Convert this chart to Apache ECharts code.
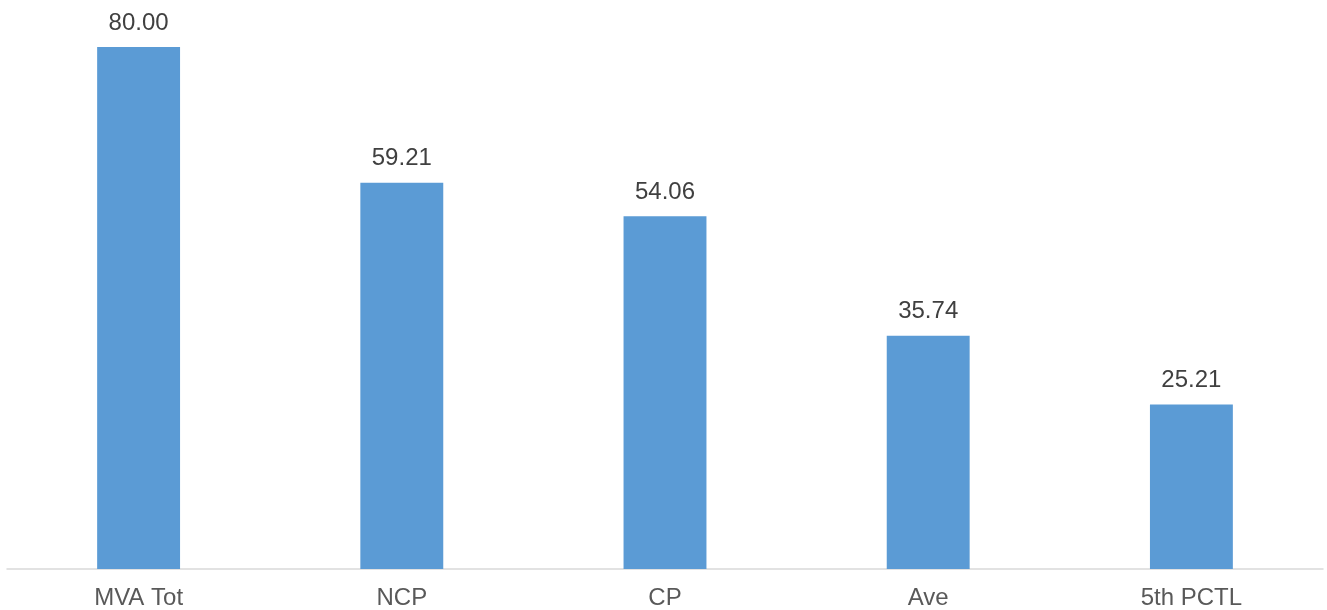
<!DOCTYPE html>
<html><head><meta charset="utf-8">
<script src="https://cdn.jsdelivr.net/npm/echarts@6/dist/echarts.min.js"></script>
<style>html,body{margin:0;padding:0;background:#fff}#c{width:1327px;height:610px}</style>
</head><body><div id="c"></div>
<script>
const categories = ['MVA Tot', 'NCP', 'CP', 'Ave', '5th PCTL'];
const values = [80.00, 59.21, 54.06, 35.74, 25.21];
const chart = echarts.init(document.getElementById('c'));
chart.setOption({
  animation: false,
  grid: { left: 7, right: 4, top: 47, bottom: 39, containLabel: false },
  xAxis: {
    type: 'category', data: categories,
    axisLine: { lineStyle: { color: '#D9D9D9', width: 1.5 } },
    axisTick: { show: false },
    axisLabel: { color: '#595959', fontSize: 24, fontFamily: 'Liberation Sans, Arial', margin: 17 }
  },
  yAxis: { type: 'value', min: 0, max: 80, show: false, splitLine: { show: false } },
  series: [{
    type: 'bar', data: values, barWidth: '31.5%',
    itemStyle: { color: '#5B9BD5' },
    label: { show: true, position: 'top', distance: 12, color: '#404040', fontSize: 24,
      fontFamily: 'Liberation Sans, Arial', formatter: p => p.value.toFixed(2) }
  }]
});
</script></body></html>
